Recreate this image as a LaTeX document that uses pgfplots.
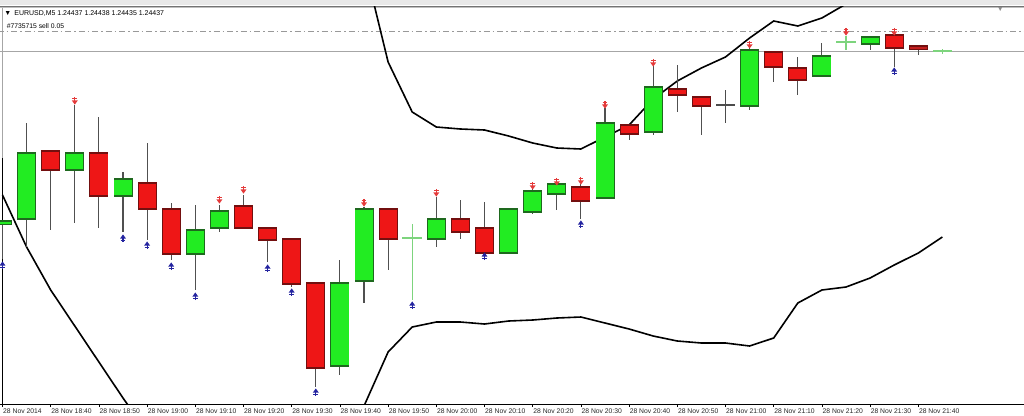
\documentclass[border=0pt]{standalone}
\usepackage{fontspec}
\setmainfont{Liberation Sans}
\usepackage{pgfplots}
\usepackage{pgfplotstable}
\pgfplotsset{compat=1.18}

\definecolor{bull}{RGB}{34,236,34}
\definecolor{bullo}{RGB}{30,105,30}
\definecolor{bear}{RGB}{238,22,22}
\definecolor{bearo}{RGB}{115,15,15}
\definecolor{curr}{RGB}{196,30,30}
\definecolor{wick}{RGB}{80,80,80}
\definecolor{dojig}{RGB}{125,212,125}
\definecolor{arrred}{RGB}{228,58,58}
\definecolor{arrblue}{RGB}{36,36,160}

\pgfdeclareplotmark{fdown}{%
  \pgfsetlinewidth{1.1pt}%
  \pgfpathmoveto{\pgfqpoint{0pt}{4.2pt}}\pgfpathlineto{\pgfqpoint{0pt}{-1pt}}\pgfusepathqstroke
  \pgfpathmoveto{\pgfqpoint{-2.4pt}{2.2pt}}\pgfpathlineto{\pgfqpoint{2.4pt}{2.2pt}}\pgfusepathqstroke
  \pgfpathmoveto{\pgfqpoint{-3pt}{0.6pt}}\pgfpathlineto{\pgfqpoint{3pt}{0.6pt}}\pgfpathlineto{\pgfqpoint{0pt}{-3.6pt}}\pgfpathclose\pgfusepathqfill}
\pgfdeclareplotmark{fup}{%
  \pgfsetlinewidth{1.1pt}%
  \pgfpathmoveto{\pgfqpoint{0pt}{-4.2pt}}\pgfpathlineto{\pgfqpoint{0pt}{1pt}}\pgfusepathqstroke
  \pgfpathmoveto{\pgfqpoint{-2.4pt}{-2.2pt}}\pgfpathlineto{\pgfqpoint{2.4pt}{-2.2pt}}\pgfusepathqstroke
  \pgfpathmoveto{\pgfqpoint{-3pt}{-0.6pt}}\pgfpathlineto{\pgfqpoint{3pt}{-0.6pt}}\pgfpathlineto{\pgfqpoint{0pt}{3.6pt}}\pgfpathclose\pgfusepathqfill}

% candle index i, open o, high h, low l, close c  (vertical screen units, larger = lower price)
\pgfplotstableread{
i o h l c
0 224 221 259 221
1 219 123 247 153
3 170 105 223 153
5 196 172 232 179
8 254 205 290 230
9 228 205 232 211
14 366 260 375 283
15 281 207 303 209
18 239 197 247 219
21 253 209 253 209
22 212 189 214 191
23 194 183 210 184
25 198 108 198 123
27 132 66 135 87
31 106 48 110 50
34 76 43 76 56
36 44 37 50 37
}\bulltab
\pgfplotstableread{
i o h l c
2 151 150 230 170
4 153 117 228 196
6 183 143 240 209
7 209 203 260 254
10 206 195 229 228
11 228 228 262 240
12 239 239 287 284
13 283 283 387 368
16 209 209 270 239
19 219 200 239 232
20 228 202 254 253
24 187 184 219 201
26 125 124 140 134
28 89 65 112 95
29 97 97 135 106
32 52 51 82 67
33 68 57 95 80
37 35 34 67 48
}\beartab
\pgfplotstableread{
i o h l c
38 46 46 55 49
}\currtab
\pgfplotstableread{
i o h l c
17 238 224 300 238
35 42 36 50 42
39 51 49 54 51
}\dojigtab
\pgfplotstableread{
i o h l c
30 105 90 123 105
}\dojiktab
\pgfplotstableread{
i y
3 101
9 200
10 190
15 203
18 193
22 186
23 182
24 181
25 105
27 63
31 45
35 32
37 32
}\reddown
\pgfplotstableread{
i y
0 265
5 238
6 245
7 266
8 296
11 268
12 292
13 392
17 305
20 256
24 224
37 71
}\blueup
\pgfplotstableread{
i y
0 195
1 247
2 290
3 326
4 362
5 398
6 432
}\lowerA
\pgfplotstableread{
i y
14 470
15 406
16 352
17 327
18 322
19 322
20 324
21 321
22 320
23 318
24 317
25 323
26 329
27 336
28 341
29 343
30 343
31 346
32 338
33 303
34 290
35 287
36 278
37 265
38 253
39 237
}\lowerB
\pgfplotstableread{
i y
14 -120
15 -37
16 62
17 112
18 127
19 129
20 130
21 136
22 143
23 148
24 149
25 137
26 125
27 99
28 81
29 68
30 57
31 38
32 21
33 26
34 18
35 4
36 -15
}\upper

\pgfplotsset{
  wickplot/.style={draw=none, mark=none, error bars/.cd, y dir=both, y explicit, error mark=none,
    error bar style={draw=wick, line width=1.1bp}},
  bodyplot/.style 2 args={draw=none, mark=none, error bars/.cd, y dir=both, y explicit, error mark=none,
    error bar style={draw=#1, line width=#2}},
}

\begin{document}
\begin{tikzpicture}
\begin{axis}[
  scale only axis,
  width=1024bp, height=397bp,
  xmin=-0.10373, xmax=42.3859,
  ymin=7, ymax=404, y dir=reverse,
  clip mode=individual,
  axis x line*=bottom, axis y line=none,
  x axis line style={black, line width=1bp},
  ytick=\empty,
  xtick={0,2,...,38},
  xticklabels={28 Nov 2014,28 Nov 18:40,28 Nov 18:50,28 Nov 19:00,28 Nov 19:10,28 Nov 19:20,28 Nov 19:30,28 Nov 19:40,28 Nov 19:50,28 Nov 20:00,28 Nov 20:10,28 Nov 20:20,28 Nov 20:30,28 Nov 20:40,28 Nov 20:50,28 Nov 21:00,28 Nov 21:10,28 Nov 21:20,28 Nov 21:30,28 Nov 21:40},
  xtick pos=bottom, tick align=outside, major tick length=3bp,
  x tick style={black, line width=0.6bp},
  x tick label style={font=\fontsize{6.8}{7}\selectfont, text=black!85, anchor=north west, inner sep=0pt, xshift=0.5bp, yshift=-2bp},
]
% toolbar and frame decoration
\fill[black!9] (axis cs:-0.10373,0) rectangle (axis cs:42.3859,5.5);
\draw[black!55, line width=0.8bp] (axis cs:-0.10373,6) -- (axis cs:42.3859,6);
\draw[black!25, line width=0.6bp] (axis cs:-0.10373,7.6) -- (axis cs:42.3859,7.6);
\draw[black!35, line width=0.8bp] (axis cs:0,8) -- (axis cs:0,158);
\draw[black, line width=1.2bp] (axis cs:0,158) -- (axis cs:0,404);

% horizontal price / order lines
\addplot[black!35, line width=0.8bp, forget plot] coordinates {(-0.2,51) (43,51)};
\addplot[black!40, line width=0.8bp, dash pattern=on 6bp off 3bp on 1.5bp off 3bp, forget plot] coordinates {(-0.2,31) (43,31)};

% Bollinger bands
\addplot[black, line width=1.6bp] table[x=i,y=y] \lowerA;
\addplot[black, line width=1.6bp] table[x=i,y=y] \lowerB;
\addplot[black, line width=1.6bp] table[x=i,y=y] \upper;

% wicks
\addplot[wickplot] table[x=i, y expr={(\thisrow{h}+\thisrow{l})/2}, y error expr={(\thisrow{l}-\thisrow{h})/2}] \bulltab;
\addplot[wickplot] table[x=i, y expr={(\thisrow{h}+\thisrow{l})/2}, y error expr={(\thisrow{l}-\thisrow{h})/2}] \beartab;
\addplot[wickplot] table[x=i, y expr={(\thisrow{h}+\thisrow{l})/2}, y error expr={(\thisrow{l}-\thisrow{h})/2}] \currtab;

% bodies
\addplot[bodyplot={bullo}{19bp}] table[x=i, y expr={(\thisrow{o}+\thisrow{c})/2}, y error expr={abs(\thisrow{o}-\thisrow{c})/2+0.7}] \bulltab;
\addplot[bodyplot={bull}{17.2bp}] table[x=i, y expr={(\thisrow{o}+\thisrow{c})/2}, y error expr={max(abs(\thisrow{o}-\thisrow{c})/2-0.7,0.3)}] \bulltab;
\addplot[bodyplot={bearo}{19bp}] table[x=i, y expr={(\thisrow{o}+\thisrow{c})/2}, y error expr={abs(\thisrow{o}-\thisrow{c})/2+0.7}] \beartab;
\addplot[bodyplot={bear}{17.2bp}] table[x=i, y expr={(\thisrow{o}+\thisrow{c})/2}, y error expr={max(abs(\thisrow{o}-\thisrow{c})/2-0.7,0.3)}] \beartab;
\addplot[bodyplot={bearo}{19bp}] table[x=i, y expr={(\thisrow{o}+\thisrow{c})/2}, y error expr={abs(\thisrow{o}-\thisrow{c})/2+0.7}] \currtab;
\addplot[bodyplot={curr}{17.2bp}] table[x=i, y expr={(\thisrow{o}+\thisrow{c})/2}, y error expr={max(abs(\thisrow{o}-\thisrow{c})/2-0.7,0.3)}] \currtab;

% doji candles
\addplot[draw=none, mark=none, error bars/.cd, y dir=both, y explicit, error mark=none,
  error bar style={draw=dojig, line width=1.1bp}]
  table[x=i, y expr={(\thisrow{h}+\thisrow{l})/2}, y error expr={(\thisrow{l}-\thisrow{h})/2}] \dojigtab;
\addplot[draw=none, mark=none, error bars/.cd, x dir=both, x explicit, error mark=none,
  error bar style={draw=dojig, line width=1.1bp}]
  table[x=i, y=o, x error expr={0.41}] \dojigtab;
\addplot[draw=none, mark=none, error bars/.cd, y dir=both, y explicit, error mark=none,
  error bar style={draw=black!70, line width=1.1bp}]
  table[x=i, y expr={(\thisrow{h}+\thisrow{l})/2}, y error expr={(\thisrow{l}-\thisrow{h})/2}] \dojiktab;
\addplot[draw=none, mark=none, error bars/.cd, x dir=both, x explicit, error mark=none,
  error bar style={draw=black!70, line width=1.4bp}]
  table[x=i, y=o, x error expr={0.41}] \dojiktab;

% fractal arrows
\addplot[only marks, mark=fdown, color=arrred] table[x=i,y=y] \reddown;
\addplot[only marks, mark=fup, color=arrblue] table[x=i,y=y] \blueup;

% header texts
\node[anchor=west, inner sep=0pt, font=\fontsize{7}{8}\selectfont] at (axis cs:0.07,13.5) {▼\, EURUSD,M5  1.24437 1.24438 1.24435 1.24437};
\node[anchor=west, inner sep=0pt, font=\fontsize{6.8}{8}\selectfont] at (axis cs:0.17,26.5) {\#7735715 sell 0.05};
\node[anchor=center, inner sep=0pt, text=black!45, font=\fontsize{7}{8}\selectfont] at (axis cs:41.4,10) {▼};

\coordinate (ptl) at (axis cs:-0.10373,0);
\coordinate (pbr) at (axis cs:42.3859,415);
\end{axis}
\pgfresetboundingbox
\useasboundingbox (ptl) rectangle (pbr);
\end{tikzpicture}
\end{document}
